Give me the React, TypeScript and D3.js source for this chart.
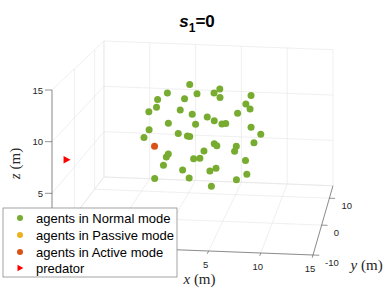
import React from "react";
import * as d3 from "d3";

// ---- data ----
const X_DOMAIN: [number, number] = [-10, 15];
const Y_DOMAIN: [number, number] = [-10, 15];
const Z_DOMAIN: [number, number] = [0, 15];
const xTicks = [-10, -5, 0, 5, 10, 15];
const yTicks = [-10, 0, 10];
const zTicks = [0, 5, 10, 15];

// agent positions (m); mode: 0 = Normal, 1 = Passive, 2 = Active
const agentX = [1.2, -0.6, 1.5, 3.7, 4.7, 3.9, 7.5, -2.1, 0.2, -1.7, 6.6, 7.4, -3.0, 0.7, 1.0, 6.5, 3.0, 3.3, -0.5, 1.8, 4.1, 5.3, 7.5, -3.5, -3.5, 0.5, 0.5, 1.2, 8.5, -1.9, 3.3, 4.4, 7.8, 5.6, 6.2, -1.0, -1.7, 3.1, 1.6, 1.8, 7.3, -1.5, 0.0, 3.7, 3.9, 6.7, -2.4, 1.6, 6.0, 3.0];
const agentY = [3, 0, 6, 3, 0, 6, 3, 3, 6, 0, 6, 3, 3, 0, 6, 0, 3, 6, 0, 3, 6, 0, 3, 6, 3, 0, 6, 3, 3, 0, 6, 0, 3, 6, 0, 3, 6, 0, 3, 6, 0, 3, 6, 0, 3, 6, 3, 0, 3, 6];
const agentZ = [13.2, 12.9, 11.6, 12.4, 13.5, 11.3, 12.3, 11.5, 11.0, 11.4, 10.7, 10.9, 10.2, 11.2, 9.4, 11.1, 9.9, 8.8, 9.8, 9.1, 8.5, 10.0, 9.0, 7.6, 7.5, 8.8, 7.1, 7.8, 8.3, 7.4, 6.4, 7.7, 7.4, 6.2, 7.2, 5.9, 4.8, 7.1, 5.5, 4.8, 6.3, 4.7, 3.5, 5.1, 4.6, 3.3, 3.3, 4.3, 3.5, 1.9];
const agentMode = [0, 0, 0, 0, 0, 0, 0, 0, 0, 0, 0, 0, 0, 0, 0, 0, 0, 0, 0, 0, 0, 0, 0, 0, 0, 0, 0, 0, 0, 2, 0, 0, 0, 0, 0, 0, 0, 0, 0, 0, 0, 0, 0, 0, 0, 0, 0, 0, 0, 0];

const predatorPos = [-9.7, -5, 7.0];

const legendLabels = [
  "agents in Normal mode",
  "agents in Passive mode",
  "agents in Active mode",
  "predator",
];
const modeColors = ["#77AC30", "#EDB120", "#D95319"];
const predatorColor = "#FF0000";

// ---- projection (perspective) ----
const su = d3.scaleLinear().domain(X_DOMAIN).range([0, 1]);
const sv = d3.scaleLinear().domain(Y_DOMAIN).range([0, 1]);
const sh = d3.scaleLinear().domain(Z_DOMAIN).range([0, 1]);
const P0 = [52, 245];
const PU = [261, 10];
const PV = [66.5, -43.3];
const PH = [0, -155];
const CV = 0.1397;

function proj(x: number, y: number, z: number): [number, number] {
  const a = su(x), b = sv(y), c = sh(z);
  const D = 1 + CV * b;
  return [
    (P0[0] + PU[0] * a + PV[0] * b + PH[0] * c) / D,
    (P0[1] + PU[1] * a + PV[1] * b + PH[1] * c) / D,
  ];
}

const FONT = "'Liberation Sans', Arial, Helvetica, sans-serif";
const SERIF = "'Liberation Serif', 'Times New Roman', serif";
const GRID = "#e4e4e4";
const AXIS = "#4a4a4a";
const TICKTXT = "#262626";

// legend box
const legX = 3, legY = 208, legW = 174, legH = 69;
const rowY = [218, 235, 252, 268];
const underLegend = (p: [number, number]) =>
  p[0] > legX - 4 && p[0] < legX + legW + 4 && p[1] > legY - 4 && p[1] < legY + legH + 4;

function seg(p: [number, number], q: [number, number], key: string, stroke: string, w = 0.6) {
  return <line key={key} x1={p[0]} y1={p[1]} x2={q[0]} y2={q[1]} stroke={stroke} strokeWidth={w} />;
}

export default function App() {
  const [x0, x1] = X_DOMAIN;
  const [y0, y1] = Y_DOMAIN;
  const [z0, z1] = Z_DOMAIN;
  const grid: JSX.Element[] = [];
  const xs = [...xTicks];
  const ys = [...yTicks, y1];
  const zs = [...zTicks];
  // back wall (y = y1)
  xs.forEach((x) => grid.push(seg(proj(x, y1, z0), proj(x, y1, z1), `bx${x}`, GRID)));
  zs.forEach((z) => grid.push(seg(proj(x0, y1, z), proj(x1, y1, z), `bz${z}`, GRID)));
  // left wall (x = x0)
  ys.forEach((y) => grid.push(seg(proj(x0, y, z0), proj(x0, y, z1), `ly${y}`, GRID)));
  zs.forEach((z) => grid.push(seg(proj(x0, y0, z), proj(x0, y1, z), `lz${z}`, GRID)));
  // floor (z = z0)
  xs.forEach((x) => grid.push(seg(proj(x, y0, z0), proj(x, y1, z0), `fx${x}`, GRID)));
  ys.forEach((y) => grid.push(seg(proj(x0, y, z0), proj(x1, y, z0), `fy${y}`, GRID)));

  const axes: JSX.Element[] = [];
  axes.push(seg(proj(x0, y0, z0), proj(x1, y0, z0), "ax", AXIS));
  axes.push(seg(proj(x1, y0, z0), proj(x1, y1, z0), "ay", AXIS));
  axes.push(seg(proj(x0, y0, z0), proj(x0, y0, z1), "az", AXIS));

  const labels: JSX.Element[] = [];
  xTicks.forEach((x) => {
    const p = proj(x, y0, z0);
    const q = proj(x, y0 - 0.9, z0);
    axes.push(seg(p, q, `tx${x}`, AXIS));
    const lp: [number, number] = [p[0] - 3, p[1] + 13.5];
    if (!underLegend(lp))
      labels.push(
        <text key={`lx${x}`} x={lp[0]} y={lp[1]} textAnchor="middle" dominantBaseline="central" fontSize={9.5} fill={TICKTXT} fontFamily={FONT}>{x}</text>
      );
  });
  yTicks.forEach((y) => {
    const p = proj(x1, y, z0);
    const q = proj(x1 + 0.6, y, z0);
    axes.push(seg(p, q, `ty${y}`, AXIS));
    labels.push(
      <text key={`ly${y}`} x={p[0] + 12} y={p[1] + 7} textAnchor="start" dominantBaseline="central" fontSize={9.5} fill={TICKTXT} fontFamily={FONT}>{y}</text>
    );
  });
  zTicks.forEach((z) => {
    const p = proj(x0, y0, z);
    axes.push(seg(p, [p[0] - 7, p[1]], `tz${z}`, AXIS));
    const lp: [number, number] = [p[0] - 9, p[1]];
    if (!underLegend([lp[0] - 4, lp[1]]))
      labels.push(
        <text key={`lz${z}`} x={lp[0]} y={lp[1]} textAnchor="end" dominantBaseline="central" fontSize={9.5} fill={TICKTXT} fontFamily={FONT}>{z}</text>
      );
  });

  const pts = agentX.map((x, i) => ({ p: proj(x, agentY[i], agentZ[i]), m: agentMode[i], d: agentY[i] }));
  pts.sort((a, b) => b.d - a.d);

  const pred = proj(predatorPos[0], predatorPos[1], predatorPos[2]);
  const tri = (cx: number, cy: number, s: number) =>
    `M${cx - s * 0.6},${cy - s * 0.75} L${cx + s * 0.8},${cy} L${cx - s * 0.6},${cy + s * 0.75} Z`;

  const xl = proj(2.5, y0, z0);
  const yl = proj(x1, 0, z0);
  const zl = proj(x0, y0, 7.5);

  return (
    <svg width={390} height={293} style={{ position: "absolute", left: 0, top: 0, background: "#fff" }}>
      <rect x={0} y={0} width={390} height={293} fill="#fff" />
      <g>{grid}</g>
      <g>{axes}</g>
      <g>{labels}</g>
      <text x={xl[0] + 17} y={xl[1] + 29} textAnchor="middle" dominantBaseline="central" fontSize={15} fontFamily={SERIF} fill="#262626">
        <tspan fontStyle="italic">x</tspan> (m)
      </text>
      <text x={yl[0] + 45} y={yl[1] + 40} textAnchor="middle" dominantBaseline="central" fontSize={15} fontFamily={SERIF} fill="#262626">
        <tspan fontStyle="italic">y</tspan> (m)
      </text>
      <text transform={`translate(${zl[0] - 37},${zl[1] - 4}) rotate(-90)`} textAnchor="middle" dominantBaseline="central" fontSize={15} fontFamily={SERIF} fill="#262626">
        <tspan fontStyle="italic">z</tspan> (m)
      </text>
      <g>
        {pts.map((d, i) => (
          <circle key={i} cx={d.p[0]} cy={d.p[1]} r={3.5} fill={modeColors[d.m]} />
        ))}
      </g>
      <path d={tri(pred[0], pred[1], 5)} fill={predatorColor} />
      <text x={197} y={27} textAnchor="middle" fontSize={17} fontWeight="bold" fontFamily={FONT} fill="#000">
        <tspan fontStyle="italic">s</tspan>
        <tspan fontSize={12} dy={5}>1</tspan>
        <tspan dy={-5}>=0</tspan>
      </text>
      <g>
        <rect x={legX} y={legY} width={legW} height={legH} fill="#fff" stroke="#8c8c8c" strokeWidth={0.8} />
        {legendLabels.map((t, i) => (
          <g key={t}>
            {i < 3 ? (
              <circle cx={20} cy={rowY[i]} r={3} fill={modeColors[i]} />
            ) : (
              <path d={tri(20, rowY[i], 4.2)} fill={predatorColor} />
            )}
            <text x={36} y={rowY[i]} dominantBaseline="central" fontSize={13} fontFamily={FONT} fill="#000">{t}</text>
          </g>
        ))}
      </g>
    </svg>
  );
}
